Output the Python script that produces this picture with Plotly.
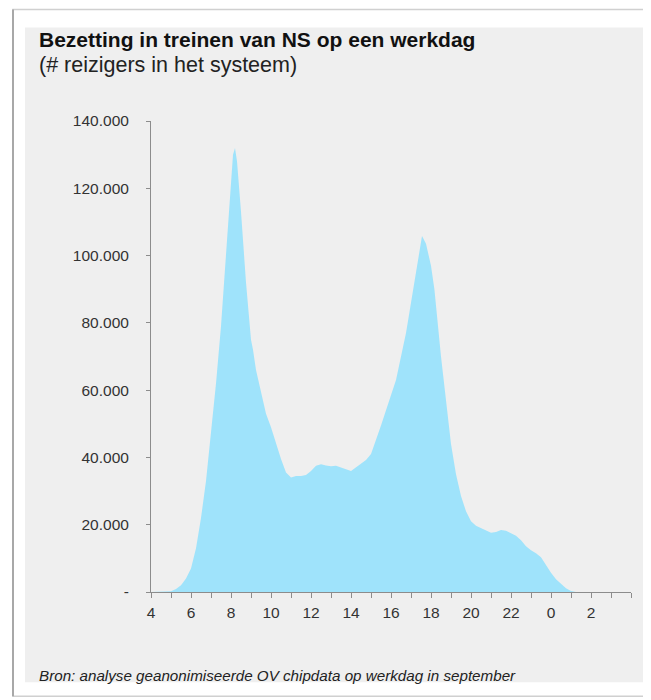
import plotly.graph_objects as go

# Hour of day (values past 24 are after midnight)
hours = [4.0, 4.75, 5.0, 5.25, 5.5, 5.75, 6.0, 6.25, 6.5, 6.75, 7.0, 7.25, 7.5, 7.75,
         8.0, 8.1, 8.2, 8.3, 8.5, 8.75, 9.0, 9.1, 9.25, 9.5, 9.75, 10.0, 10.25, 10.5,
         10.75, 11.0, 11.25, 11.5, 11.75, 12.0, 12.25, 12.5, 12.75, 13.0, 13.25, 13.5,
         13.75, 14.0, 14.25, 14.5, 14.75, 15.0, 15.25, 15.5, 15.75, 16.0, 16.25, 16.5,
         16.75, 17.0, 17.25, 17.4, 17.55, 17.75, 18.0, 18.17, 18.33, 18.5, 18.75, 19.0,
         19.25, 19.5, 19.75, 20.0, 20.25, 20.5, 20.75, 21.0, 21.25, 21.5, 21.75, 22.0,
         22.25, 22.5, 22.75, 23.0, 23.25, 23.5, 23.75, 24.0, 24.25, 24.5, 24.75, 25.0,
         25.25]
reizigers = [0, 0, 200, 900, 2000, 4000, 7000, 13000, 22000, 33000, 47000, 62000, 79000,
             100000, 122000, 130000, 132000, 128000, 113000, 92000, 75000, 72000, 66000,
             59000, 53000, 49000, 44000, 39500, 35500, 34000, 34500, 34500, 34800, 36000,
             37500, 38000, 37600, 37400, 37500, 37100, 36500, 36000, 37000, 38000, 39200,
             41000, 45000, 49500, 54000, 58500, 63000, 70000, 77000, 86000, 95000, 100500,
             105800, 103500, 97000, 90000, 80000, 70000, 57000, 44000, 35000, 28500, 24000,
             21000, 19700, 19000, 18500, 17600, 17800, 18400, 18200, 17500, 16700, 15400,
             13600, 12400, 11500, 10300, 7800, 5700, 3800, 2300, 1100, 300, 0]

x_tickvals = [4, 6, 8, 10, 12, 14, 16, 18, 20, 22, 24, 26]
x_ticktext = ["4", "6", "8", "10", "12", "14", "16", "18", "20", "22", "0", "2"]
y_tickvals = [0, 20000, 40000, 60000, 80000, 100000, 120000, 140000]
y_ticktext = ["-", "20.000", "40.000", "60.000", "80.000", "100.000", "120.000", "140.000"]

title = "<b>Bezetting in treinen van NS op een werkdag</b>"
subtitle = "(# reizigers in het systeem)"
footer = "<i>Bron: analyse geanonimiseerde OV chipdata op werkdag in september</i>"

FONT = "Arial, Liberation Sans, sans-serif"
OFF = 8  # page body margin
W, H = 651 - OFF, 700 - OFF
# plot area in screenshot pixels
X0, X1, Y0, Y1 = 151, 631, 120.7, 592.5
L, R, T, B = X0 - OFF, W - (X1 - OFF), Y0 - OFF, H - (Y1 - OFF)
pw, ph = X1 - X0, Y1 - Y0

def px(x):
    return (x - X0) / pw

def py(y):
    return (Y1 - y) / ph

fig = go.Figure()
fig.add_trace(go.Scatter(
    x=hours, y=reizigers, mode="lines", fill="tozeroy",
    fillcolor="#9fe3fb", line=dict(width=0, color="#9fe3fb"),
    hoverinfo="skip", showlegend=False,
))

shapes = [
    dict(type="rect", xref="paper", yref="paper", x0=px(13), x1=px(646), y0=py(697), y1=py(9),
         line=dict(color="#d0d0d0", width=1.5), fillcolor="white", layer="below"),
    dict(type="line", xref="paper", yref="paper", x0=px(13), x1=px(13), y0=py(697), y1=py(9),
         line=dict(color="#a8a8a8", width=2), layer="below"),
    dict(type="rect", xref="paper", yref="paper", x0=px(25), x1=px(644), y0=py(683), y1=py(27),
         line=dict(width=0), fillcolor="#efefef", layer="below"),
]

annotations = [
    dict(text=title, xref="paper", yref="paper", x=px(37), y=py(39), xanchor="left",
         yanchor="middle", showarrow=False, font=dict(family=FONT, size=21, color="#111111")),
    dict(text=subtitle, xref="paper", yref="paper", x=px(37), y=py(64.5), xanchor="left",
         yanchor="middle", showarrow=False, font=dict(family=FONT, size=21.5, color="#222222")),
    dict(text=footer, xref="paper", yref="paper", x=px(37), y=py(676), xanchor="left",
         yanchor="middle", showarrow=False, font=dict(family=FONT, size=15.2, color="#222222")),
]

fig.update_layout(
    width=W, height=H,
    margin=dict(l=L, r=R, t=T, b=B, pad=0),
    paper_bgcolor="white", plot_bgcolor="rgba(0,0,0,0)",
    shapes=shapes, annotations=annotations,
    font=dict(family=FONT, size=15, color="#333333"),
    xaxis=dict(
        range=[4, 28], tickmode="array", tickvals=x_tickvals, ticktext=x_ticktext,
        showgrid=False, zeroline=False, showline=True, linecolor="#8c8c8c", linewidth=1,
        ticks="outside", ticklen=5, tickcolor="#8c8c8c", tickwidth=1,
        ticklabelstandoff=1,
        tickfont=dict(family=FONT, size=15.5, color="#333333"),
        minor=dict(dtick=1, tick0=4, ticks="outside", ticklen=5, tickcolor="#8c8c8c",
                   tickwidth=1, showgrid=False),
    ),
    yaxis=dict(
        range=[0, 140000], tickmode="array", tickvals=y_tickvals, ticktext=y_ticktext,
        showgrid=False, zeroline=False, showline=True, linecolor="#8c8c8c", linewidth=1,
        ticks="outside", ticklen=4, tickcolor="#8c8c8c", tickwidth=1,
        ticklabelstandoff=14,
        tickfont=dict(family=FONT, size=15.5, color="#333333"),
    ),
)

fig.write_html("out.html")
